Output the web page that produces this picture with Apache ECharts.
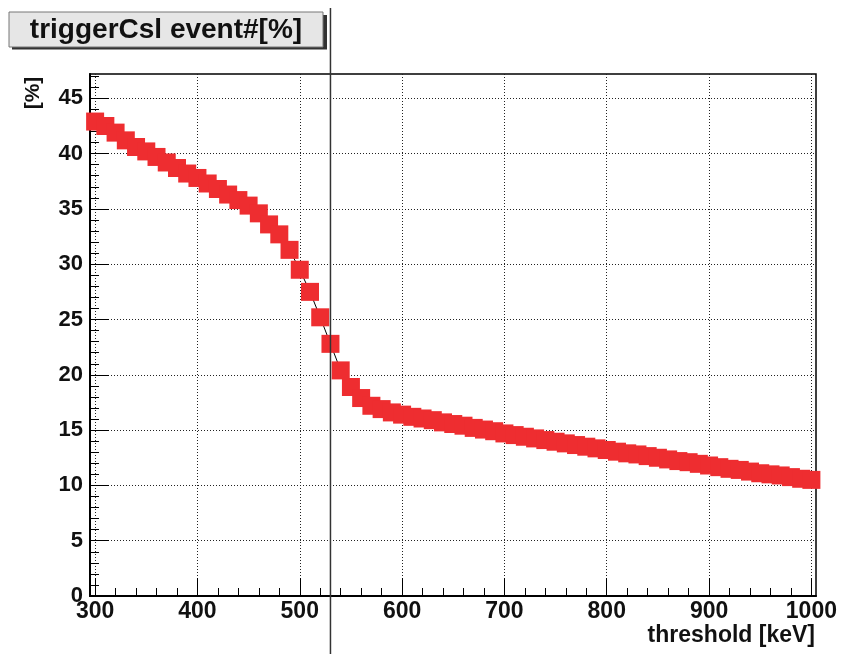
<!DOCTYPE html>
<html><head><meta charset="utf-8">
<script src="https://cdn.jsdelivr.net/npm/echarts@6/dist/echarts.min.js"></script>
<style>html,body{margin:0;padding:0;background:#fff}#c{width:841px;height:654px}</style>
</head><body><div id="c"></div>
<script>
// ---- data ----
const thresholds = [300,310,320,330,340,350,360,370,380,390,
  400,410,420,430,440,450,460,470,480,490,
  500,510,520,530,540,550,560,570,580,590,
  600,610,620,630,640,650,660,670,680,690,
  700,710,720,730,740,750,760,770,780,790,
  800,810,820,830,840,850,860,870,880,890,
  900,910,920,930,940,950,960,970,980,990,1000];
const eventPct = [42.9,42.5,41.9,41.2,40.6,40.2,39.7,39.2,38.7,38.2,
  37.8,37.3,36.8,36.3,35.8,35.3,34.6,33.6,32.7,31.3,
  29.5,27.5,25.2,22.8,20.4,18.9,17.9,17.2,16.9,16.6,
  16.4,16.2,16.05,15.9,15.7,15.55,15.4,15.2,15.05,14.9,
  14.7,14.55,14.4,14.25,14.1,13.95,13.8,13.65,13.5,13.35,
  13.2,13.05,12.9,12.8,12.65,12.5,12.35,12.2,12.1,11.95,
  11.8,11.65,11.5,11.4,11.25,11.1,11.0,10.9,10.75,10.6,10.5];
const xMajorTicks = [300,400,500,600,700,800,900,1000];
const xMinorTicks = [300,320,340,360,380,400,420,440,460,480,500,520,540,560,580,600,620,640,660,680,
  700,720,740,760,780,800,820,840,860,880,900,920,940,960,980,1000];
const yMajorTicks = [0,5,10,15,20,25,30,35,40,45];
const yMinorTicks = [0,1,2,3,4,5,6,7,8,9,10,11,12,13,14,15,16,17,18,19,20,21,22,23,24,
  25,26,27,28,29,30,31,32,33,34,35,36,37,38,39,40,41,42,43,44,45,46,47];
const markerThreshold = 530;
const titleText = 'triggerCsl event#[%]';
const xTitle = 'threshold [keV]';
const yTitle = '[%]';

const FONT = "'Liberation Sans', Arial, Helvetica, sans-serif";
const chart = echarts.init(document.getElementById('c'), null, {renderer: 'canvas'});
const dotted = {color: '#222', width: 1, type: [1, 2]};
const xRange = {min: 295, max: 1004.5};
const yRange = {min: 0, max: 47.2};
const plain = v => String(v);

chart.setOption({
  animation: false,
  backgroundColor: '#fff',
  grid: {left: 90, right: 25, top: 74, bottom: 58, show: true, borderColor: '#000', borderWidth: 1.5, containLabel: false},
  xAxis: [{
    type: 'value', ...xRange, position: 'bottom',
    axisLine: {show: true, onZero: false, lineStyle: {color: '#000', width: 2}},
    axisTick: {show: true, inside: true, length: 18, customValues: xMajorTicks, lineStyle: {color: '#000', width: 1}},
    axisLabel: {show: true, customValues: xMajorTicks, formatter: plain, fontSize: 23, fontWeight: 'bold', fontFamily: FONT, color: '#111', margin: 4},
    splitLine: {show: true, lineStyle: dotted}
  }, {
    type: 'value', ...xRange, position: 'bottom',
    axisLine: {show: false},
    axisTick: {show: true, inside: true, length: 8, customValues: xMinorTicks, lineStyle: {color: '#000', width: 1}},
    axisLabel: {show: false},
    splitLine: {show: false}
  }],
  yAxis: [{
    type: 'value', ...yRange, position: 'left',
    axisLine: {show: true, onZero: false, lineStyle: {color: '#000', width: 2}},
    axisTick: {show: true, inside: true, length: 19, customValues: yMajorTicks, lineStyle: {color: '#000', width: 1}},
    axisLabel: {show: true, customValues: yMajorTicks, formatter: plain, fontSize: 22, fontWeight: 'bold', fontFamily: FONT, color: '#111', margin: 7},
    splitLine: {show: true, lineStyle: dotted}
  }, {
    type: 'value', ...yRange, position: 'left',
    axisLine: {show: false},
    axisTick: {show: true, inside: true, length: 9, customValues: yMinorTicks, lineStyle: {color: '#000', width: 1}},
    axisLabel: {show: false},
    splitLine: {show: false}
  }],
  series: [{
    type: 'line',
    xAxisIndex: 0, yAxisIndex: 0,
    data: thresholds.map((t, i) => [t, eventPct[i]]),
    symbol: 'rect', symbolSize: 18,
    clip: false,
    itemStyle: {color: '#ee2d30'},
    lineStyle: {color: '#000', width: 1},
    emphasis: {disabled: true}
  }]
});

const vx = chart.convertToPixel({xAxisIndex: 0}, markerThreshold);
chart.setOption({
  graphic: [
    {type: 'rect', shape: {x: 12, y: 15, width: 315, height: 34.5}, style: {fill: '#333'}, z: 10},
    {type: 'rect', shape: {x: 9, y: 12, width: 314, height: 35}, style: {fill: '#e6e6e6', stroke: '#777', lineWidth: 1}, z: 11},
    {type: 'text', x: 166, y: 30, z: 12, style: {text: titleText, font: 'bold 28px ' + FONT, fill: '#111', align: 'center', verticalAlign: 'middle'}},
    {type: 'text', x: 33, y: 93, rotation: Math.PI / 2, z: 12, style: {text: yTitle, font: 'bold 21px ' + FONT, fill: '#111', align: 'center', verticalAlign: 'middle'}},
    {type: 'text', x: 815, y: 636, z: 12, style: {text: xTitle, font: 'bold 23px ' + FONT, fill: '#111', align: 'right', verticalAlign: 'middle'}},
    {type: 'line', shape: {x1: vx, y1: 8, x2: vx, y2: 654}, style: {stroke: '#333', lineWidth: 1.5}, z: 20}
  ]
});
</script>
</body></html>
